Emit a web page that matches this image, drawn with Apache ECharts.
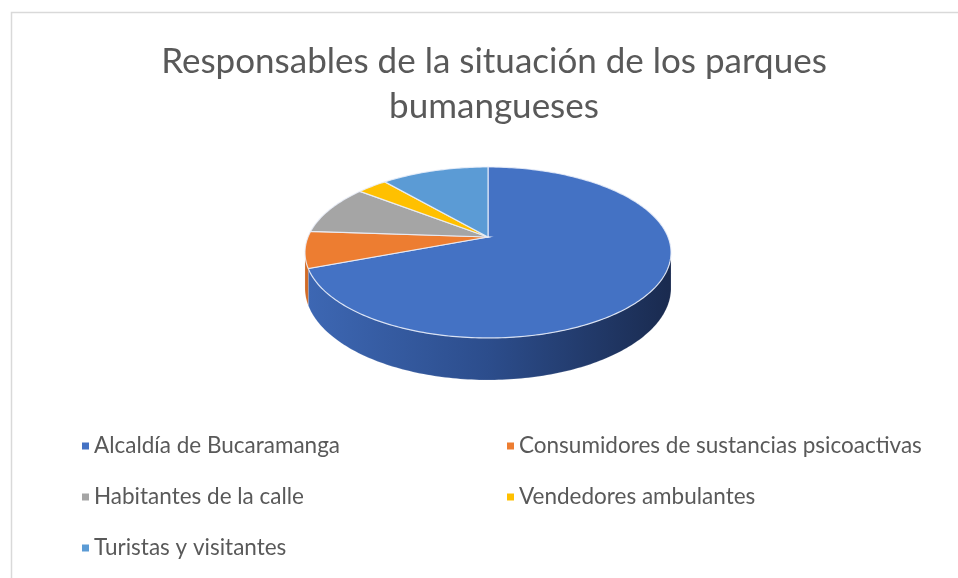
<!DOCTYPE html>
<html>
<head>
<meta charset="utf-8">
<script src="https://cdn.jsdelivr.net/npm/echarts@6/dist/echarts.min.js"></script>
<style>
  html, body { margin: 0; padding: 0; background: #fff; }
  #chart { width: 958px; height: 578px; }
</style>
</head>
<body>
<div id="chart"></div>
<script>
// 数据 (读自原图, 百分比估计)
const categories = [
    'Alcaldía de Bucaramanga',
    'Consumidores de sustancias psicoactivas',
    'Habitantes de la calle',
    'Vendedores ambulantes',
    'Turistas y visitantes'
];
const values = [69.2, 6.9, 9.4, 3.2, 11.3];

// 颜色 (Office 默认)
const topColors = ['#4472C4', '#ED7D31', '#A5A5A5', '#FFC000', '#5B9BD5'];
const sideColors = [
    ['#3d67b3', '#2c4d8c', '#1a2b50'],
    ['#d06a25', '#b55a1c', '#8a4210'],
    ['#909090', '#7a7a7a', '#555555'],
    ['#e0a800', '#c49200', '#8f6a00'],
    ['#4f88bd', '#3d71a3', '#274d72']
];

// 3D 饼图几何 (透视近似)
const CX = 488, CY = 237;   // 切片顶点
const RX = 180, RY = 82.7;  // 顶面半径
const K = 0.181;            // 透视系数
const H = 34.4;             // 厚度
const total = values.reduce((a, b) => a + b, 0);
const startAngles = [];
let acc = 0;
values.forEach(v => { startAngles.push(acc / total * Math.PI * 2); acc += v; });

function project(theta, drop) {
    const c = Math.cos(theta), s = Math.sin(theta);
    const d = 1 + K * c;
    return [CX + RX * s / d, CY - RY * c / d + (drop ? H / d : 0)];
}

function arcPoints(a0, a1, drop) {
    const pts = [];
    const n = Math.max(2, Math.ceil((a1 - a0) / (Math.PI / 180)));
    for (let i = 0; i <= n; i++) pts.push(project(a0 + (a1 - a0) * i / n, drop));
    return pts;
}

const visLo = Math.acos(-K);
const visHi = Math.PI * 2 - Math.acos(-K);

function makeRenderItem(idx) {
    return function (params, api) {
        const a0 = startAngles[idx];
        const a1 = a0 + api.value(0) / total * Math.PI * 2;
        const children = [];
        // 侧面
        const lo = Math.max(a0, visLo), hi = Math.min(a1, visHi);
        if (hi > lo) {
            const topEdge = arcPoints(lo, hi, false);
            const botEdge = arcPoints(lo, hi, true).reverse();
            children.push({
                type: 'polygon',
                shape: { points: topEdge.concat(botEdge) },
                style: {
                    fill: {
                        type: 'linear', x: CX - RX, y: 0, x2: CX + RX, y2: 0, global: true,
                        colorStops: [
                            { offset: 0, color: sideColors[idx][0] },
                            { offset: 0.5, color: sideColors[idx][1] },
                            { offset: 1, color: sideColors[idx][2] }
                        ]
                    },
                    stroke: 'rgba(255,255,255,0.25)',
                    lineWidth: 0.6
                }
            });
        }
        // 顶面
        children.push({
            type: 'polygon',
            shape: { points: [[CX, CY]].concat(arcPoints(a0, a1, false)) },
            style: { fill: topColors[idx], stroke: 'rgba(235,240,250,0.85)', lineWidth: 1.2 }
        });
        return { type: 'group', children: children };
    };
}

const chart = echarts.init(document.getElementById('chart'));
const legendText = { color: '#595959', fontSize: 22.5, fontFamily: 'Lato', lineHeight: 24 };

chart.setOption({
    animation: false,
    title: {
        text: 'Responsables de la situación de los parques\nbumangueses',
        left: 489,
        top: 34,
        textAlign: 'center',
        textStyle: { color: '#595959', fontSize: 35, fontWeight: 'normal', fontFamily: 'Lato', lineHeight: 45 }
    },
    legend: [
        {
            orient: 'vertical', left: 77, top: 429, itemGap: 27,
            itemWidth: 7, itemHeight: 7, icon: 'rect',
            data: [categories[0], categories[2], categories[4]],
            textStyle: legendText
        },
        {
            orient: 'vertical', left: 502, top: 429, itemGap: 27,
            itemWidth: 7, itemHeight: 7, icon: 'rect',
            data: [categories[1], categories[3]],
            textStyle: legendText
        }
    ],
    graphic: [{
        type: 'rect', left: 9, top: 10,
        shape: { width: 980, height: 600 },
        style: { fill: 'none', stroke: '#d9d9d9', lineWidth: 1.5 },
        silent: true
    }],
    series: categories.map((name, i) => ({
        type: 'custom',
        name: name,
        coordinateSystem: 'none',
        color: topColors[i],
        data: [[values[i]]],
        renderItem: makeRenderItem(i)
    }))
});
</script>
</body>
</html>
